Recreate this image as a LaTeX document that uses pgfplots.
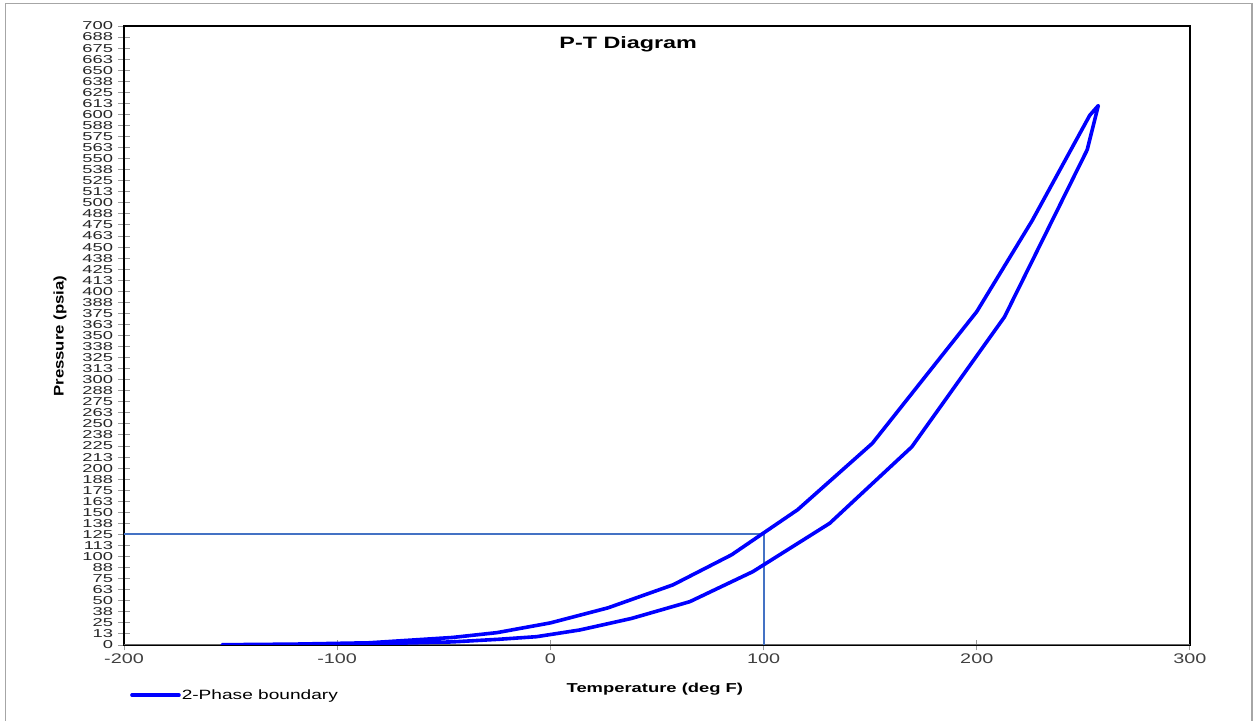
\documentclass[border=0pt]{standalone}
\usepackage{fontspec}
\setmainfont{Liberation Sans}[FakeStretch=1.42]
\newfontfamily\ytfont{Liberation Sans}[FakeStretch=1.6]
\newfontfamily\ylfont{Liberation Sans}[FakeStretch=1.2]
\usepackage{pgfplots}
\pgfplotsset{compat=1.18}
\definecolor{refblue}{RGB}{68,114,196}
\begin{document}
\begin{tikzpicture}
\path[use as bounding box] (0,0) rectangle (1259bp,721bp);
\draw[black!35, line width=1.5bp] (5.5bp,0bp) -- (5.5bp,717.7bp) -- (1252bp,717.7bp) -- (1252bp,0bp);
\begin{axis}[
  at={(124bp,76bp)}, anchor=south west,
  width=1066bp, height=619bp, scale only axis,
  xmin=-200, xmax=300, ymin=0, ymax=700,
  xtick={-200,-100,0,100,200,300},
  xticklabels={-200,-100,0,100,200,300},
  ytick={0,12.5,...,700},
  yticklabels={0,13,25,38,50,63,75,88,100,113,125,138,150,163,175,188,200,213,225,238,250,263,275,288,300,313,325,338,350,363,375,388,400,413,425,438,450,463,475,488,500,513,525,538,550,563,575,588,600,613,625,638,650,663,675,688,700},
  xtick pos=left, ytick pos=left,
  tick align=center,
  major tick length=11bp,
  tick style={black!40, line width=1bp},
  axis line style={black, line width=1.5bp},
  yticklabel style={font=\ytfont\fontsize{11.5}{11.5}\selectfont, text=black!85, xshift=-2bp},
  xticklabel style={font=\fontsize{14}{14}\selectfont, text=black!75},
  xlabel={\textbf{Temperature (deg F)}},
  xlabel style={at={(axis description cs:0.498,-0.0711)}, anchor=center, font=\fontsize{13}{13}\selectfont},
  ylabel={\textbf{Pressure (psia)}},
  ylabel style={at={(axis description cs:-0.060,0.499)}, anchor=center, font=\ylfont\fontsize{14}{14}\selectfont},
  legend style={at={(axis description cs:0.0056,-0.081)}, anchor=west, draw=none, fill=none,
    font=\fontsize{13.5}{13.5}\selectfont, inner sep=0pt, nodes={inner sep=1bp}},
  legend cell align=left,
  legend image code/.code={\draw[#1] (0bp,0bp) -- (47bp,0bp);},
]
\draw[black!60, line width=2bp] (rel axis cs:0,0) -- (rel axis cs:1,0);
\addplot[refblue, line width=2bp, forget plot] coordinates {(-200,125.5) (100,125.5) (100,0)};
\addplot[blue, line width=3.6bp, line join=round, line cap=round] coordinates {
(-154,0.3) (-120,1) (-85,2.5) (-46,8.5) (-25,14) (0,25) (27,42) (57.5,68) (85,102) (116,153) (151,228) (200,377) (226,480) (253,599) (257,610)
(251.8,560) (213,371) (169.5,224) (131,137.6) (95,83) (65.4,49) (38,30) (13.8,17) (-6.5,9.4) (-24,6.5) (-46,3.5) (-85,1.3) (-120,0.5) (-154,0.3)
};
\addlegendentry{2-Phase boundary}
\node[font=\bfseries\fontsize{16.5}{16.5}\selectfont] at (axis description cs:0.473,0.971) {P-T Diagram};
\end{axis}
\end{tikzpicture}
\end{document}
